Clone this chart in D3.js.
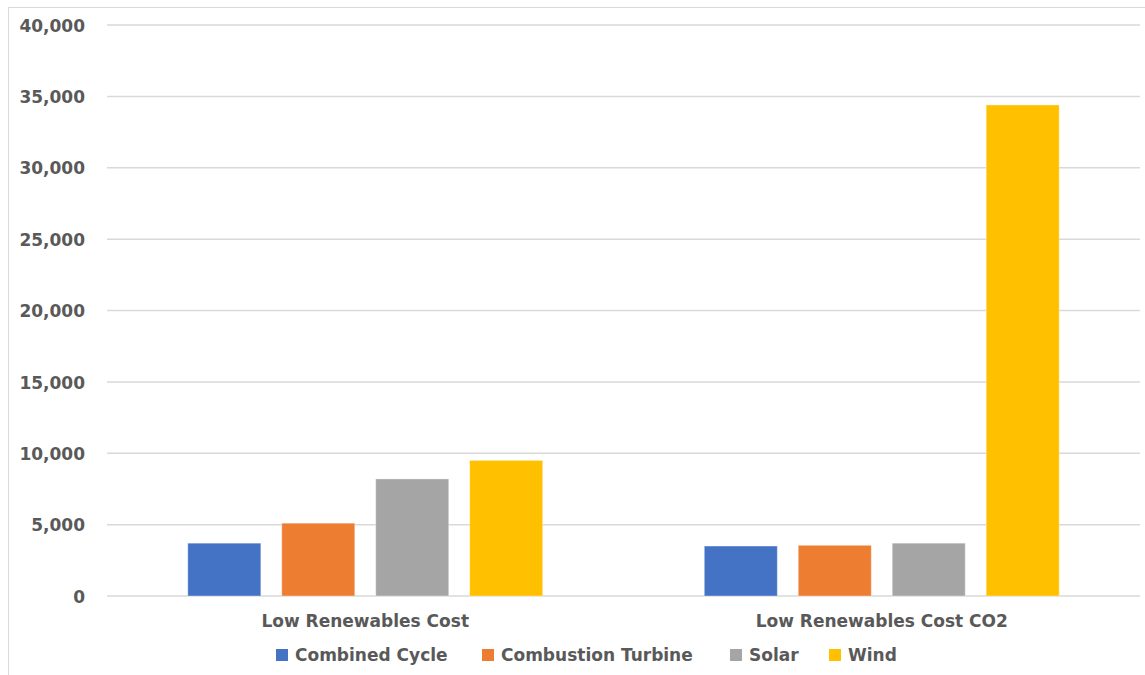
<!DOCTYPE html>
<html>
<head>
<meta charset="utf-8">
<script src="https://cdn.jsdelivr.net/npm/d3@7"></script>
<style>
  html, body { margin: 0; padding: 0; background: #fff; }
  svg { display: block; }
</style>
</head>
<body>
<svg id="chart" width="1145" height="675"></svg>
<script>
// Scenario categories and technology series
const categories = ["Low Renewables Cost", "Low Renewables Cost CO2"];
const seriesNames = ["Combined Cycle", "Combustion Turbine", "Solar", "Wind"];
const combinedCycle = [3700, 3500];
const combustionTurbine = [5100, 3550];
const solar = [8200, 3700];
const wind = [9500, 34400];
const yTicks = [0, 5000, 10000, 15000, 20000, 25000, 30000, 35000, 40000];

const seriesValues = [combinedCycle, combustionTurbine, solar, wind];
const colors = ["#4472C4", "#ED7D31", "#A5A5A5", "#FFC000"];

const svg = d3.select("#chart");
const W = 1145, H = 675;
const plot = { left: 107, right: 1140, top: 25, bottom: 596 };
const font = "'DejaVu Sans', Verdana, sans-serif";
const fontSize = 17;
const textColor = "#595959";

// Chart area frame
svg.append("rect").attr("x", 8.5).attr("y", 7.5).attr("width", W + 10).attr("height", H + 10)
  .attr("fill", "#fff").attr("stroke", "#d9d9d9").attr("stroke-width", 1);

const x0 = d3.scaleBand().domain(categories).range([plot.left, plot.right]).paddingInner(0).paddingOuter(0);
const x1 = d3.scaleBand().domain(seriesNames).range([0, x0.bandwidth()]).paddingInner(0.223).paddingOuter(0.86);
const y = d3.scaleLinear().domain([0, 40000]).range([plot.bottom, plot.top]);

// Horizontal gridlines
svg.append("g").selectAll("line").data(yTicks).join("line")
  .attr("x1", plot.left).attr("x2", plot.right)
  .attr("y1", d => y(d)).attr("y2", d => y(d))
  .attr("stroke", "#d9d9d9").attr("stroke-width", 1.5);

// Y axis labels
const yAxis = d3.axisLeft(y).tickValues(yTicks).tickSize(0).tickPadding(0).tickFormat(d3.format(","));
const yg = svg.append("g").attr("transform", "translate(85,0)").call(yAxis);
yg.select(".domain").remove();
yg.selectAll("text").attr("fill", textColor).attr("font-family", font)
  .attr("font-weight", "bold").attr("font-size", fontSize).attr("dy", "0.36em");

// Bars
const rows = categories.map((c, i) => ({ cat: c, vals: seriesNames.map((s, j) => ({ s, v: seriesValues[j][i], color: colors[j] })) }));
svg.append("g").selectAll("g").data(rows).join("g")
  .attr("transform", d => `translate(${x0(d.cat)},0)`)
  .selectAll("rect").data(d => d.vals).join("rect")
  .attr("x", d => x1(d.s)).attr("width", x1.bandwidth())
  .attr("y", d => y(d.v)).attr("height", d => y(0) - y(d.v))
  .attr("fill", d => d.color)
  .attr("stroke", "#ffffff").attr("stroke-opacity", 0.35).attr("stroke-width", 1);

// Category labels
const xAxis = d3.axisBottom(x0).tickSize(0).tickPadding(0);
const xg = svg.append("g").attr("transform", `translate(0,${plot.bottom + 17})`).call(xAxis);
xg.select(".domain").remove();
xg.selectAll("text").attr("fill", textColor).attr("font-family", font)
  .attr("font-weight", "bold").attr("font-size", fontSize).attr("dy", "0.8em");

// Legend
const legendX = [276, 482, 730, 829];
const lg = svg.append("g").selectAll("g").data(seriesNames).join("g")
  .attr("transform", (d, i) => `translate(${legendX[i]},655)`);
lg.append("rect").attr("x", 0).attr("y", -6).attr("width", 12).attr("height", 12)
  .attr("fill", (d, i) => colors[i]);
lg.append("text").attr("x", 19).attr("y", 0).attr("dy", "0.36em")
  .attr("fill", textColor).attr("font-family", font).attr("font-weight", "bold").attr("font-size", fontSize)
  .text(d => d);
</script>
</body>
</html>
